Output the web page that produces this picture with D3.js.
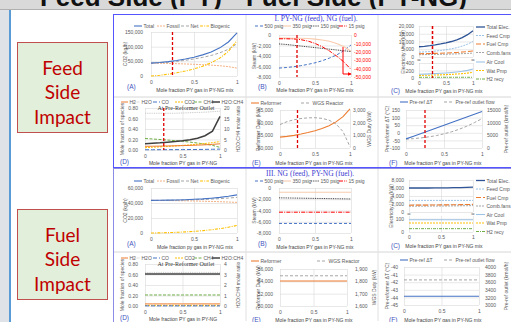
<!DOCTYPE html>
<html>
<head>
<meta charset="utf-8">
<script src="https://cdn.jsdelivr.net/npm/d3@7"></script>
<style>
  body { margin: 0; background: #fff; }
  svg { display: block; }
</style>
</head>
<body>
<svg id="chart" width="511" height="322"></svg>
<script>
// x values shared by every panel
const molFrac = [0, 0.1, 0.2, 0.3, 0.4, 0.5, 0.6, 0.7, 0.8, 0.9, 1];
const xTicks = [0, 0.5, 1];

// ---------- I. PY-NG (feed), NG (fuel) ----------
const co2TotalFeed = [44000, 46000, 49000, 53000, 58000, 64000, 72000, 82000, 96000, 116000, 147000];
const co2FossilFeed = [44000, 43500, 43000, 42000, 41000, 40000, 38500, 37000, 35000, 32000, 27000];
const co2NetFeed = [44000, 45000, 47000, 50000, 53500, 58000, 63500, 70000, 79000, 91000, 110000];
const co2BioFeed = [0, 2500, 6000, 11000, 17000, 24000, 33500, 45000, 61000, 84000, 120000];

const steam500Feed = [-6300, -6200, -6050, -5850, -5600, -5300, -4900, -4400, -3800, -3000, -1900];
const steam350Feed = [-600, -600, -610, -630, -680, -780, -950, -1200, -1600, -2200, -3100];
const steam150Feed = [-1700, -1800, -1950, -2100, -2250, -2400, -2550, -2700, -2850, -3000, -3150];
const steam15Feed = [-4500, -4500, -4700, -5500, -7200, -10000, -14000, -19000, -25000, -32000, -41000];

const elecTotalFeed = [6600, 6900, 7300, 7800, 8400, 9100, 10000, 11100, 12500, 14400, 17000];
const feedCmpFeed = [3100, 3300, 3500, 3800, 4200, 4700, 5300, 6000, 7000, 8300, 10000];
const fuelCmpFeed = [2100, 2150, 2250, 2350, 2450, 2600, 2750, 2950, 3200, 3500, 3900];
const combFansFeed = [1500, 1550, 1600, 1650, 1700, 1800, 1900, 2000, 2150, 2300, 2500];
const airCoolFeed = [100, 104, 110, 117, 125, 135, 147, 162, 180, 204, 240];
const watPmpFeed = [70, 72, 75, 79, 84, 90, 97, 106, 117, 131, 150];
const h2RecyFeed = [20, 20, 20, 20, 20, 20, 20, 20, 20, 20, 20];

const h2FracFeed = [0.07, 0.072, 0.074, 0.077, 0.08, 0.084, 0.088, 0.093, 0.099, 0.107, 0.118];
const h2oFracFeed = [0.7, 0.7, 0.7, 0.7, 0.7, 0.705, 0.71, 0.715, 0.72, 0.73, 0.74];
const coFracFeed = [0.005, 0.005, 0.006, 0.006, 0.007, 0.008, 0.009, 0.01, 0.012, 0.014, 0.017];
const co2FracFeed = [0.045, 0.052, 0.06, 0.068, 0.077, 0.087, 0.098, 0.11, 0.124, 0.14, 0.16];
const ch4FracFeed = [0.22, 0.21, 0.2, 0.19, 0.178, 0.165, 0.15, 0.133, 0.113, 0.088, 0.05];
const ratioFeed = [3.0, 3.2, 3.4, 3.7, 4.0, 4.4, 4.9, 5.6, 6.8, 9.0, 16.0];

const reformerFeed = [54300, 54600, 55000, 55500, 56100, 56800, 57700, 58800, 60300, 62400, 65400];
const wgsFeed = [1850, 2080, 2230, 2330, 2380, 2390, 2340, 2200, 1900, 1300, 100];

const dTFeed = [-40, -22, -4, 14, 32, 50, 68, 86, 104, 122, 140];
const flowFeed = [3500, 3700, 4000, 4400, 4900, 5600, 6400, 7400, 8600, 10000, 11600];

// ---------- III. NG (feed), PY-NG (fuel) ----------
const co2TotalFuel = [43500, 43600, 43800, 44000, 44400, 44900, 45500, 46400, 47500, 49000, 50800];
const co2FossilFuel = [43500, 43400, 43300, 43100, 42900, 42700, 42400, 42100, 41700, 41300, 40800];
const co2NetFuel = [43500, 43500, 43600, 43800, 44000, 44300, 44700, 45200, 45800, 46600, 47500];
const co2BioFuel = [0, 200, 500, 900, 1500, 2200, 3100, 4300, 5800, 7700, 10000];

const steam500Fuel = [-6300, -6300, -6300, -6300, -6300, -6300, -6300, -6300, -6300, -6300, -6300];
const steam350Fuel = [-750, -750, -750, -750, -750, -750, -750, -750, -750, -750, -750];
const steam150Fuel = [-1750, -1770, -1790, -1810, -1830, -1850, -1870, -1890, -1910, -1930, -1950];
const steam15Fuel = [-4300, -4300, -4300, -4300, -4300, -4300, -4300, -4300, -4300, -4300, -4300];

const elecTotalFuel = [6000, 6000, 6000, 6000, 6010, 6020, 6040, 6070, 6110, 6160, 6230];
const feedCmpFuel = [2900, 2900, 2900, 2900, 2900, 2900, 2900, 2900, 2900, 2900, 2900];
const fuelCmpFuel = [1700, 1710, 1720, 1730, 1750, 1770, 1790, 1810, 1840, 1870, 1900];
const combFansFuel = [1450, 1460, 1470, 1480, 1490, 1500, 1510, 1530, 1550, 1570, 1600];
const airCoolFuel = [92, 92, 92, 92, 92, 92, 92, 92, 92, 92, 92];
const watPmpFuel = [68, 68, 68, 68, 68, 68, 68, 68, 68, 68, 68];
const h2RecyFuel = [25, 25, 25, 25, 25, 25, 25, 25, 25, 25, 25];

const h2FracFuel = [0.04, 0.04, 0.04, 0.04, 0.04, 0.04, 0.04, 0.04, 0.04, 0.04, 0.04];
const h2oFracFuel = [0.64, 0.64, 0.64, 0.64, 0.64, 0.64, 0.64, 0.64, 0.64, 0.64, 0.64];
const coFracFuel = [0.003, 0.003, 0.003, 0.003, 0.003, 0.003, 0.003, 0.003, 0.003, 0.003, 0.003];
const co2FracFuel = [0.012, 0.012, 0.012, 0.012, 0.012, 0.012, 0.012, 0.012, 0.012, 0.012, 0.012];
const ch4FracFuel = [0.21, 0.21, 0.21, 0.21, 0.21, 0.21, 0.21, 0.21, 0.21, 0.21, 0.21];
const ratioFuel = [3.05, 3.05, 3.05, 3.05, 3.05, 3.05, 3.05, 3.05, 3.05, 3.05, 3.05];

const reformerFuel = [54050, 54050, 54050, 54050, 54050, 54050, 54050, 54050, 54050, 54050, 54050];
const wgsFuel = [1845, 1845, 1845, 1845, 1845, 1845, 1845, 1845, 1845, 1845, 1845];

const dTFuel = [-43.85, -43.85, -43.85, -43.85, -43.85, -43.85, -43.85, -43.85, -43.85, -43.85, -43.85];
const flowFuel = [3660, 3660, 3660, 3660, 3660, 3660, 3660, 3660, 3660, 3660, 3660];

// ---------- drawing ----------
const svg = d3.select('#chart');
const FONT = "'Liberation Sans', Arial, sans-serif";
const GRID = '#d9d9d9', TXT = '#595959', TAG = '#4254c0';
const comma = v => d3.format(',')(v).replace('\u2212', '-');
const plain = v => d3.format('d')(v).replace('\u2212', '-');
const two = d3.format('.2f');

// line styles
const ST = {
  total: { c: '#4472c4', w: 1.1 },
  fossil: { c: '#f4b183', w: 1, d: '2,1' },
  net: { c: '#a5a5a5', w: 1, d: '3,2' },
  bio: { c: '#ffc000', w: 1.1, d: '3,1.2,1,1.2' },
  p500: { c: '#4472c4', w: 1, d: '3,2' },
  p350: { c: '#f8cbad', w: 1.1 },
  p150: { c: '#404040', w: 1, d: '1,0.8' },
  p15: { c: '#ff0000', w: 1, d: '4,1.2,1,1.2' },
  eTot: { c: '#2f5597', w: 1.3 },
  eFeed: { c: '#9dc3e6', w: 1, d: '2,1' },
  eFuel: { c: '#ed7d31', w: 1.1, d: '5,2' },
  eComb: { c: '#a5a5a5', w: 1, d: '2,1' },
  eAir: { c: '#9dc3e6', w: 1.1 },
  eWat: { c: '#ffc000', w: 1.1, d: '2,1' },
  eH2: { c: '#70ad47', w: 1, d: '3,1,1,1' },
  h2: { c: '#ed7d31', w: 1 },
  h2o: { c: '#c9c9c9', w: 1, d: '1,0.8' },
  co: { c: '#4472c4', w: 1, d: '4,2' },
  co2: { c: '#ffc000', w: 1, d: '2,1' },
  ch4: { c: '#70ad47', w: 1, d: '3,1.5' },
  ratio: { c: '#404040', w: 1.5 },
  ref: { c: '#ed7d31', w: 1.1 },
  wgs: { c: '#a5a5a5', w: 1, d: '3,2' },
  dT: { c: '#4472c4', w: 1.1 },
  flow: { c: '#a5a5a5', w: 1, d: '3,2' }
};

// background, frames
svg.append('rect').attr('width', 511).attr('height', 322).attr('fill', '#d9d9d9');
svg.append('text').attr('x', 222).attr('y', 6).attr('text-anchor', 'end')
  .style('font', `bold 26px ${FONT}`).attr('fill', '#111').text('Feed Side (PY)');
svg.append('text').attr('x', 467).attr('y', 6).attr('text-anchor', 'end')
  .style('font', `bold 26px ${FONT}`).attr('fill', '#111').text('Fuel Side (PY-NG)');
svg.append('line').attr('x1', 0).attr('x2', 511).attr('y1', 9.5).attr('y2', 9.5).attr('stroke', '#b0b0b0');
svg.append('rect').attr('x', 0).attr('y', 10).attr('width', 9).attr('height', 312).attr('fill', '#dfe3e8');
svg.append('rect').attr('x', 11).attr('y', 10).attr('width', 500).attr('height', 312).attr('fill', '#fff');
svg.append('line').attr('x1', 10).attr('x2', 10).attr('y1', 10).attr('y2', 322).attr('stroke', '#5b9bd5').attr('stroke-width', 2);

svg.append('rect').attr('x', 113.5).attr('y', 14.5).attr('width', 400).attr('height', 153)
  .attr('fill', 'none').attr('stroke', '#5555ff');
svg.append('rect').attr('x', 113.5).attr('y', 168.5).attr('width', 400).attr('height', 160)
  .attr('fill', 'none').attr('stroke', '#8c8ce6');
[[97, 168], [252, 322]].forEach(([yd, yb]) => {
  svg.append('line').attr('x1', 114).attr('x2', 511).attr('y1', yd).attr('y2', yd).attr('stroke', '#d6d6d6');
  [246, 378].forEach(xv => svg.append('line').attr('x1', xv).attr('x2', xv)
    .attr('y1', yb - 153).attr('y2', yb - 1).attr('stroke', '#e0e0e0'));
});

// row labels
function rowLabel(y0, words) {
  svg.append('rect').attr('x', 17.5).attr('y', y0 + 0.5).attr('width', 90).attr('height', 90)
    .attr('fill', '#e2efda').attr('stroke', '#c0504d');
  words.forEach((w, i) => svg.append('text').attr('x', 62.5).attr('y', y0 + 25 + i * 24.5)
    .attr('text-anchor', 'middle').attr('dominant-baseline', 'central')
    .style('font', `19px Lato, ${FONT}`).attr('fill', '#c00000').text(w));
}
rowLabel(42, ['Feed', 'Side', 'Impact']);
rowLabel(209, ['Fuel', 'Side', 'Impact']);

// box titles
svg.append('text').attr('x', 316).attr('y', 18.5).attr('text-anchor', 'middle').attr('dominant-baseline', 'central')
  .style('font', "7.5px 'Liberation Serif', serif").attr('fill', '#3b3bd0').text('I. PY-NG (feed), NG (fuel).');
svg.append('text').attr('x', 310).attr('y', 173.5).attr('text-anchor', 'middle').attr('dominant-baseline', 'central')
  .style('font', "7.5px 'Liberation Serif', serif").attr('fill', '#3b3bd0').text('III. NG (feed), PY-NG (fuel).');

function styleAxis(a) {
  a.select('.domain').remove();
  a.selectAll('.tick line').attr('stroke', GRID).attr('stroke-width', 0.6);
  a.selectAll('.tick text').attr('fill', TXT).style('font-size', '5px').style('font-family', FONT);
}

function txt(x, y, s, o = {}) {
  return svg.append('text').attr('x', x).attr('y', y).attr('dominant-baseline', 'central')
    .attr('text-anchor', o.anchor || 'start').attr('fill', o.fill || TXT)
    .style('font-size', (o.size || 5) + 'px').style('font-family', o.family || FONT).text(s);
}
function vtxt(x, y, s) {
  svg.append('text').attr('transform', `translate(${x},${y}) rotate(-90)`)
    .attr('text-anchor', 'middle').attr('dominant-baseline', 'central').attr('fill', TXT)
    .style('font-size', '5px').style('font-family', FONT).text(s);
}

function legend(y, items) {
  items.forEach(it => {
    const len = it.len || 8;
    const yy = it.y !== undefined ? it.y : y;
    svg.append('line').attr('x1', it.x).attr('x2', it.x + len).attr('y1', yy).attr('y2', yy)
      .attr('stroke', it.st.c).attr('stroke-width', it.st.w || 1).attr('stroke-dasharray', it.st.d || null);
    txt(it.x + len + 1.5, yy, it.label);
  });
}

function panel(p) {
  const x = d3.scaleLinear().domain([0, 1]).range([p.x0, p.x1]);
  const y = d3.scaleLinear().domain(p.domain).range([p.yBot, p.yTop]);
  const g = svg.append('g');
  g.append('g').attr('transform', `translate(${p.x0},0)`)
    .call(d3.axisLeft(y).tickValues(p.ticks).tickFormat(p.fmt).tickSize(-(p.x1 - p.x0)).tickPadding(p.pad || 6))
    .call(styleAxis);
  g.append('g').attr('transform', `translate(0,${p.yBot})`)
    .call(d3.axisBottom(x).tickValues(xTicks).tickFormat(p.noXText ? () => '' : d3.format(''))
      .tickSize(-(p.yBot - p.yTop)).tickPadding(p.xPad || 4.5))
    .call(styleAxis);
  let yr = null;
  if (p.right) {
    yr = d3.scaleLinear().domain(p.right.domain).range([p.yBot, p.yTop]);
    const ra = g.append('g').attr('transform', `translate(${p.x1},0)`)
      .call(d3.axisRight(yr).tickValues(p.right.ticks).tickFormat(p.right.fmt).tickSize(0).tickPadding(p.right.pad || 4))
      .call(styleAxis);
    if (p.right.color) ra.selectAll('text').attr('fill', p.right.color);
  }
  p.series.forEach(s => {
    const ys = s.right ? yr : y;
    g.append('path')
      .attr('d', d3.line().x((d, i) => x(molFrac[i])).y(d => ys(d))(s.values))
      .attr('fill', 'none').attr('stroke', s.st.c).attr('stroke-width', s.st.w || 1)
      .attr('stroke-dasharray', s.st.d || null);
  });
  if (p.marker) {
    g.append('line').attr('x1', x(0.25)).attr('x2', x(0.25))
      .attr('y1', p.markTop || p.yTop).attr('y2', p.yBot)
      .attr('stroke', '#e00000').attr('stroke-width', 1.3).attr('stroke-dasharray', '3,2');
  }
  return { x, y, yr };
}

function labels(l) {
  if (l.yLabel) vtxt(l.yLabel[1], l.yLabel[2], l.yLabel[0]);
  if (l.rLabel) vtxt(l.rLabel[1], l.rLabel[2], l.rLabel[0]);
  txt(l.tag[1], l.tag[2], l.tag[0], { size: 6.5, fill: TAG });
  txt(l.xLabel[1], l.xLabel[2], l.xLabel[0], { anchor: 'middle', fill: '#404040' });
}

const MF = 'Mole fraction PY gas in PY-NG mix';

function co2Panel(yTop, yBot, domain, ticks, data, marker, legY, labY, xl) {
  panel({ x0: 151, x1: 237, yTop, yBot, domain, ticks, fmt: comma, pad: 8, marker,
    series: [
      { values: data[1], st: ST.fossil }, { values: data[2], st: ST.net },
      { values: data[3], st: ST.bio }, { values: data[0], st: ST.total }
    ] });
  legend(legY, [
    { x: 134, st: ST.total, label: 'Total' }, { x: 157, st: ST.fossil, label: 'Fossil' },
    { x: 181, st: ST.net, label: 'Net' }, { x: 200, st: ST.bio, label: 'Biogenic', len: 9 }
  ]);
  labels({ yLabel: ['CO2 (kg/h)', 125, (yTop + yBot) / 2], tag: ['(A)', 127, labY - 2], xLabel: [xl, 195, labY + 2] });
}

function steamPanel(yTop, yBot, data, right, marker, legY, labY) {
  const series = [
    { values: data[0], st: ST.p500 }, { values: data[1], st: ST.p350 },
    { values: data[2], st: ST.p150 }, { values: data[3], st: ST.p15, right: !!right }
  ];
  panel({ x0: 279, x1: 351, yTop, yBot, domain: [-8000, 0], ticks: [-8000, -6000, -4000, -2000, 0],
    fmt: comma, pad: 8, right, marker, series });
  legend(legY, [
    { x: 255, st: ST.p500, label: '500 psig' }, { x: 283, st: ST.p350, label: '350 psig' },
    { x: 311, st: ST.p150, label: '150 psig' }, { x: 339, st: ST.p15, label: '15 psig' }
  ]);
  labels({ yLabel: ['Steam (kW)', 254, (yTop + yBot) / 2], tag: ['(B)', 258, labY - 2], xLabel: [MF, 315, labY + 2] });
}

function elecPanel(c) {
  panel({ x0: c.x0, x1: 473, yTop: c.uTop, yBot: c.uBot, domain: c.uDom, ticks: c.uTicks, fmt: comma, pad: 5,
    noXText: true, marker: c.marker, series: [
      { values: c.data[3], st: ST.eComb }, { values: c.data[2], st: ST.eFuel },
      { values: c.data[1], st: ST.eFeed }, { values: c.data[0], st: ST.eTot }
    ] });
  panel({ x0: c.x0, x1: 473, yTop: c.lTop, yBot: c.lBot, domain: c.lDom, ticks: c.lTicks, fmt: comma, pad: 5,
    xPad: 3.5, marker: c.marker, markTop: c.uTop, series: [
      { values: c.data[6], st: ST.eH2 }, { values: c.data[5], st: ST.eWat }, { values: c.data[4], st: ST.eAir }
    ] });
  const yb = (c.uBot + c.lTop) / 2;
  txt(c.x0, yb, '\u2248', { anchor: 'middle', size: 6 });
  txt(473, yb, '\u2248', { anchor: 'middle', size: 6 });
  legend(0, [
    { x: 476, y: c.leg[0], st: ST.eTot, label: 'Total Elec.', len: 9 },
    { x: 476, y: c.leg[1], st: ST.eFeed, label: 'Feed Cmp', len: 9 },
    { x: 476, y: c.leg[2], st: ST.eFuel, label: 'Fuel Cmp', len: 9 },
    { x: 476, y: c.leg[3], st: ST.eComb, label: 'Comb.fans', len: 9 },
    { x: 476, y: c.leg[4], st: ST.eAir, label: 'Air Cool', len: 9 },
    { x: 476, y: c.leg[5], st: ST.eWat, label: 'Wat Pmp', len: 9 },
    { x: 476, y: c.leg[6], st: ST.eH2, label: 'H2 recy', len: 9 }
  ]);
  labels({ yLabel: ['Electricity Use (kW)', c.yLabX, (c.uTop + c.lBot) / 2], tag: ['(C)', 391, c.labY - 1],
    xLabel: [MF, 444, c.labY] });
}

function speciesPanel(yTop, yBot, data, right, marker, legY, labY) {
  panel({ x0: 145, x1: 220, yTop, yBot, domain: [0, 0.8], ticks: [0, 0.2, 0.4, 0.6, 0.8], fmt: two, pad: 7,
    xPad: 4, right, marker, series: [
      { values: data[1], st: ST.h2o }, { values: data[4], st: ST.ch4 }, { values: data[3], st: ST.co2 },
      { values: data[0], st: ST.h2 }, { values: data[2], st: ST.co }, { values: data[5], st: ST.ratio, right: true }
    ] });
  legend(legY, [
    { x: 121, st: ST.h2, label: 'H2', len: 7 }, { x: 133, st: ST.h2o, label: 'H2O', len: 7 },
    { x: 153, st: ST.co, label: 'CO', len: 7 }, { x: 175, st: ST.co2, label: 'CO2', len: 8 },
    { x: 194, st: ST.ch4, label: 'CH4', len: 8 }, { x: 212, st: ST.ratio, label: 'H2O:CH4', len: 8 }
  ]);
  txt(186, yTop, 'At Pre-Reformer Outlet', { anchor: 'middle', size: 6, fill: '#333', family: "'Liberation Serif', serif" });
  labels({ yLabel: ['Mole fraction of species', 122, (yTop + yBot) / 2],
    rLabel: ['H2O:CH4 molar ratio', 238, (yTop + yBot) / 2],
    tag: ['(D)', 120, labY - 2], xLabel: ['Mole fraction PY gas in PY-NG', 183, labY] });
}

function dutyPanel(c) {
  panel({ x0: 280, x1: c.x1, yTop: c.yTop, yBot: c.yBot, domain: c.dom, ticks: c.ticks, fmt: comma, pad: 7,
    right: c.right, marker: c.marker, series: [
      { values: c.data[1], st: ST.wgs, right: true }, { values: c.data[0], st: ST.ref }
    ] });
  legend(c.legY, [
    { x: 251, st: ST.ref, label: 'Reformer', len: 8 }, { x: c.wgsX, st: ST.wgs, label: 'WGS Reactor', len: 10 }
  ]);
  labels({ yLabel: ['Reformer Duty (kW)', 258, (c.yTop + c.yBot) / 2],
    rLabel: ['WGS Duty (kW)', c.rLabX, (c.yTop + c.yBot) / 2],
    tag: ['(E)', 252, c.labY], xLabel: [MF, 314, c.labY + 1] });
}

function prerefPanel(c) {
  panel({ x0: c.x0, x1: c.x1, yTop: c.yTop, yBot: c.yBot, domain: c.dom, ticks: c.ticks, fmt: plain, pad: 6,
    right: c.right, marker: c.marker, series: [
      { values: c.data[1], st: ST.flow, right: true }, { values: c.data[0], st: ST.dT }
    ] });
  legend(c.legY, [
    { x: 400, st: ST.dT, label: 'Pre-ref \u0394T', len: 8 }, { x: 444, st: ST.flow, label: 'Pre-ref outlet flow', len: 10 }
  ]);
  labels({ yLabel: ['Pre-reformer \u0394T (\u00b0C)', 387, (c.yTop + c.yBot) / 2],
    rLabel: ['Pre-ref outlet  (kmol/h)', 506, (c.yTop + c.yBot) / 2],
    tag: ['(F)', 389, c.labY], xLabel: [MF, 443, c.labY + 1] });
}

// ----- upper box (feed side) -----
co2Panel(32, 76, [0, 150000], [0, 50000, 100000, 150000],
  [co2TotalFeed, co2FossilFeed, co2NetFeed, co2BioFeed], true, 26, 88, MF);
steamPanel(35, 77, [steam500Feed, steam350Feed, steam150Feed, steam15Feed],
  { domain: [-50000, 0], ticks: [-50000, -40000, -30000, -20000, -10000, 0], fmt: comma, color: '#ff0000', pad: 3 },
  true, 26, 88);
// red arrow pointing to the right axis
svg.append('defs').append('marker').attr('id', 'arr').attr('viewBox', '0 0 6 6').attr('refX', 5).attr('refY', 3)
  .attr('markerWidth', 4).attr('markerHeight', 4).attr('orient', 'auto')
  .append('path').attr('d', 'M0,0L6,3L0,6Z').attr('fill', '#ff0000');
svg.append('path').attr('d', 'M343,47V74H351').attr('fill', 'none').attr('stroke', '#ff0000')
  .attr('stroke-width', 1).attr('marker-end', 'url(#arr)');

elecPanel({ x0: 419, uTop: 26, uBot: 57, uDom: [0, 20000], uTicks: [0, 5000, 10000, 15000, 20000],
  lTop: 63, lBot: 78, lDom: [0, 400], lTicks: [0, 200, 400], marker: true,
  data: [elecTotalFeed, feedCmpFeed, fuelCmpFeed, combFansFeed, airCoolFeed, watPmpFeed, h2RecyFeed],
  leg: [27, 35.5, 44, 52.5, 62, 70.5, 79], yLabX: 403, labY: 91 });

speciesPanel(108, 150, [h2FracFeed, h2oFracFeed, coFracFeed, co2FracFeed, ch4FracFeed, ratioFeed],
  { domain: [0, 20], ticks: [0, 5, 10, 15, 20], fmt: plain, pad: 4 }, true, 102, 163);

dutyPanel({ x1: 350, yTop: 110, yBot: 148, dom: [50000, 65000], ticks: [50000, 55000, 60000, 65000],
  right: { domain: [0, 3000], ticks: [0, 1000, 2000, 3000], fmt: comma, pad: 3 }, marker: true,
  data: [reformerFeed, wgsFeed], legY: 103, wgsX: 301, rLabX: 369, labY: 162 });

prerefPanel({ x0: 406, x1: 482, yTop: 110, yBot: 148, dom: [-100, 150], ticks: [-100, -50, 0, 50, 100, 150],
  right: { domain: [0, 15000], ticks: [0, 5000, 10000, 15000], fmt: plain, pad: 5 }, marker: true,
  data: [dTFeed, flowFeed], legY: 102, labY: 162 });

// ----- lower box (fuel side) -----
co2Panel(188, 233, [0, 60000], [0, 20000, 40000, 60000],
  [co2TotalFuel, co2FossilFuel, co2NetFuel, co2BioFuel], false, 181, 245, 'Mole fraction py gas in PY-NG mix');
steamPanel(188, 233, [steam500Fuel, steam350Fuel, steam150Fuel, steam15Fuel], null, false, 181, 245);

elecPanel({ x0: 409, uTop: 180, uBot: 212, uDom: [0, 8000], uTicks: [0, 2000, 4000, 6000, 8000],
  lTop: 216, lBot: 232, lDom: [0, 120], lTicks: [0, 100], marker: false,
  data: [elecTotalFuel, feedCmpFuel, fuelCmpFuel, combFansFuel, airCoolFuel, watPmpFuel, h2RecyFuel],
  leg: [180.5, 189, 197.5, 206, 214.5, 223, 231.5], yLabX: 391, labY: 246 });

speciesPanel(264, 306, [h2FracFuel, h2oFracFuel, coFracFuel, co2FracFuel, ch4FracFuel, ratioFuel],
  { domain: [0, 4], ticks: [0, 1, 2, 3, 4], fmt: plain, pad: 4 }, false, 258, 319);

dutyPanel({ x1: 347, yTop: 269, yBot: 306, dom: [50000, 56000], ticks: [50000, 52000, 54000, 56000],
  right: { domain: [1600, 1900], ticks: [1600, 1700, 1800, 1900], fmt: comma, pad: 8 }, marker: false,
  data: [reformerFuel, wgsFuel], legY: 261, wgsX: 317, rLabX: 374, labY: 319 });

prerefPanel({ x0: 404, x1: 479, yTop: 267, yBot: 305, dom: [-45, -40], ticks: [-45, -44, -43, -42, -41, -40],
  right: { domain: [3000, 4000], ticks: [3000, 3200, 3400, 3600, 3800, 4000], fmt: plain, pad: 6 }, marker: false,
  data: [dTFuel, flowFuel], legY: 260, labY: 319 });
</script>
</body>
</html>
